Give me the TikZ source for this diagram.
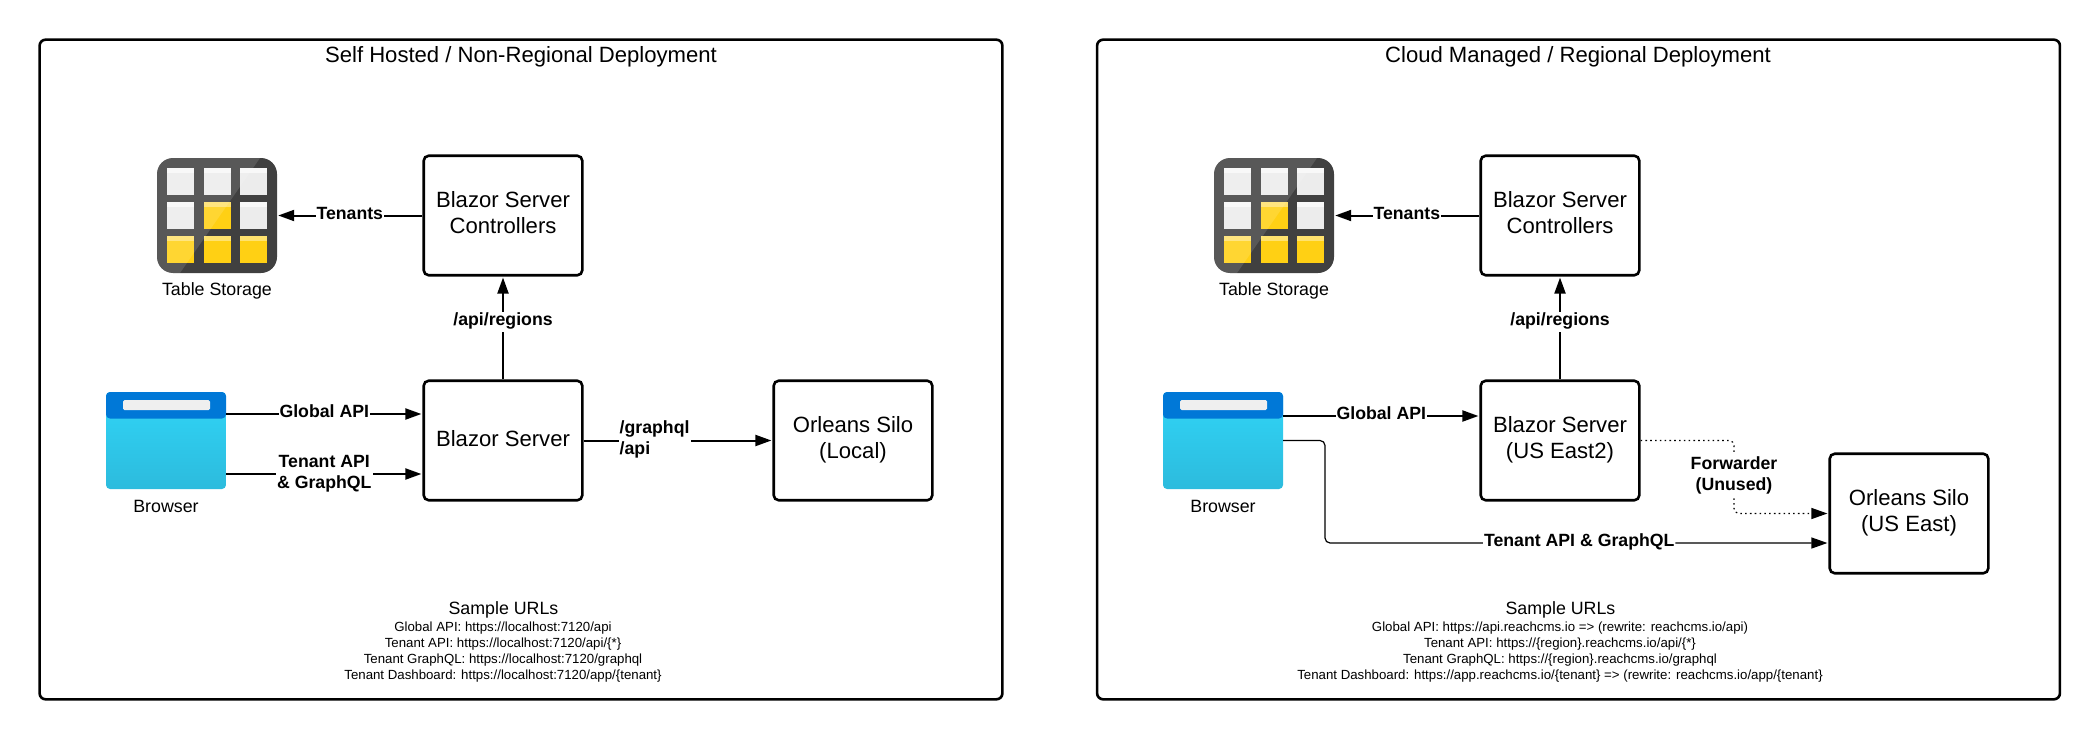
\documentclass[tikz,border=0pt]{standalone}
\usepackage{fontspec}
\setmainfont{Liberation Sans}
\usepackage{tikz}
\usetikzlibrary{arrows.meta}

\definecolor{iconlight}{HTML}{404040}
\definecolor{cellgrey}{HTML}{ECECEC}
\definecolor{celltopgrey}{HTML}{F8F8F8}
\definecolor{cellyellow}{HTML}{FFD014}
\definecolor{celltopyellow}{HTML}{FFE26E}
\definecolor{browsercyan}{HTML}{31D5F7}
\definecolor{browserdark}{HTML}{2CBBDD}
\definecolor{browserblue}{HTML}{0078D7}
\definecolor{browserbar}{HTML}{EFEFEF}

% table icon, drawn over its node
\newcommand{\tableicon}[1]{
    \begin{scope}[shift={(#1.center)}]
        \foreach \col/\row/\cellfill/\celltop in {
            -50/-47.5/cellgrey/celltopgrey, -13/-47.5/cellgrey/celltopgrey, 23/-47.5/cellgrey/celltopgrey,
            -50/-13.5/cellgrey/celltopgrey, -13/-13.5/cellyellow/celltopyellow, 23/-13.5/cellgrey/celltopgrey,
            -50/20.5/cellyellow/celltopyellow, -13/20.5/cellyellow/celltopyellow, 23/20.5/cellyellow/celltopyellow} {
            \fill[\cellfill] (\col,\row) rectangle ++(27,27);
            \fill[\celltop] (\col,\row) rectangle ++(27,5);
        }
        \begin{scope}
            \clip[rounded corners=16pt] (-60,-57.5) rectangle (60,57.5);
            \fill[white,opacity=.13] (-60,-57.5) -- (43,-57.5) -- (-37,57.5) -- (-60,57.5) -- cycle;
        \end{scope}
    \end{scope}
}
% browser icon, drawn over its node
\newcommand{\browsericon}[1]{
    \begin{scope}[shift={(#1.center)}]
        \fill[browserblue,rounded corners=4pt] (-60,-22) -- (-60,-48.5) -- (60,-48.5) -- (60,-22) -- cycle;
        \fill[browserbar,rounded corners=1.5pt] (-43,-40.5) rectangle (44,-30.5);
    \end{scope}
}

\begin{document}
\begin{tikzpicture}[x=1pt,y=-1pt,
    frame/.style={rectangle, draw, line width=2.6pt, rounded corners=6pt, minimum width=962.8pt, minimum height=659.6pt},
    block/.style={rectangle, draw, line width=2.6pt, rounded corners=5pt, minimum width=158.6pt, minimum height=119.5pt, align=center, text height=16pt, text depth=5pt, font=\fontsize{22.1}{26}\selectfont},
    blocktwo/.style={block, text height=40pt},
    title/.style={font=\fontsize{22.1}{26}\selectfont},
    tableimg/.style={rectangle, fill=iconlight, rounded corners=16pt, minimum width=120pt, minimum height=115pt},
    browserimg/.style={rectangle, top color=browsercyan, middle color=browsercyan, bottom color=browserdark, rounded corners=4pt, minimum width=120pt, minimum height=97pt},
    caption/.style={font=\fontsize{17.8}{21}\selectfont},
    urls/.style={align=center, font=\fontsize{13.25}{16}\selectfont},
    link/.style={line width=2pt, -{Triangle[length=16pt,width=11pt]}, shorten >=1pt},
    thinlink/.style={line width=1.2pt, rounded corners=5pt, -{Triangle[length=16pt,width=11pt]}, shorten >=1pt},
    forward/.style={thinlink, dash pattern=on 1.6pt off 3.2pt},
    edgelabel/.style={fill=white, inner sep=1pt, align=center, text height=13pt, text depth=5.5pt, font=\fontsize{17.7}{21}\bfseries\selectfont},
    edgelabeltwo/.style={edgelabel, text height=34pt}]
    \useasboundingbox (0,0) rectangle (2100,741);

    % self hosted
    \node[frame] (frameL) at (521,369.5) {};
    \node[title] (titleL) at (521,57) {Self Hosted / Non-Regional Deployment};
    \node[tableimg] (tableL) at (217,215.5) {};
    \tableicon{tableL}
    \node[caption] (tablecapL) at (217,291) {Table Storage};
    \node[browserimg] (browserL) at (166,440.5) {};
    \browsericon{browserL}
    \node[caption] (browsercapL) at (166,506) {Browser};
    \node[blocktwo] (ctrlL) at (503,215.5) {Blazor Server\\Controllers};
    \node[block] (serverL) at (503,440.5) {Blazor Server};
    \node[blocktwo] (siloL) at (853,440.5) {Orleans Silo\\(Local)};
    \draw[link] (ctrlL) -- node[edgelabel] (tenantsL) {Tenants} (tableL);
    \draw[link] (serverL) -- node[edgelabel,pos=.557] (regionsL) {/api/regions} (ctrlL);
    \draw[link] ([yshift=26.5pt]browserL.east) -- node[edgelabel] (globalL) {Global API} ([yshift=26.5pt]serverL.west);
    \draw[link] ([yshift=-33.5pt]browserL.east) -- node[edgelabeltwo] (tenantapiL) {Tenant API\\\& GraphQL} ([yshift=-33.5pt]serverL.west);
    \draw[link] (serverL) -- node[edgelabeltwo,align=left,pos=.376] (graphqlL) {/graphql\\/api} (siloL);
    \node[caption] (sampleL) at (503.5,610) {Sample URLs};
    \node[urls] (urlsL) at (503,652) {Global API: https://localhost:7120/api\\
        Tenant API: https://localhost:7120/api/\{*\}\\
        Tenant GraphQL: https://localhost:7120/graphql\\
        Tenant Dashboard: https://localhost:7120/app/\{tenant\}};

    % cloud managed
    \node[frame] (frameR) at (1578.5,369.5) {};
    \node[title] (titleR) at (1578,57) {Cloud Managed / Regional Deployment};
    \node[tableimg] (tableR) at (1274,215.5) {};
    \tableicon{tableR}
    \node[caption] (tablecapR) at (1274,291) {Table Storage};
    \node[browserimg] (browserR) at (1223,440.5) {};
    \browsericon{browserR}
    \node[caption] (browsercapR) at (1223,506) {Browser};
    \node[blocktwo] (ctrlR) at (1560,215.5) {Blazor Server\\Controllers};
    \node[blocktwo] (serverR) at (1560,440.5) {Blazor Server\\(US East2)};
    \node[blocktwo] (siloR) at (1909,513.5) {Orleans Silo\\(US East)};
    \coordinate (fwdR) at (1734,476);
    \coordinate (tenantR) at (1325,543);
    \draw[link] (ctrlR) -- node[edgelabel] (tenantsR) {Tenants} (tableR);
    \draw[link] (serverR) -- node[edgelabel,pos=.557] (regionsR) {/api/regions} (ctrlR);
    \draw[link] ([yshift=24.5pt]browserR.east) -- node[edgelabel] (globalR) {Global API} ([yshift=24.5pt]serverR.west);
    \draw[thinlink] (browserR.east) -| (tenantR) -- node[edgelabel,pos=.505] (tenantapiR) {Tenant API \& GraphQL} ([yshift=-29.5pt]siloR.west);
    \draw[forward] (serverR.east) -| (fwdR) |- (siloR.west);
    \node[edgelabeltwo] (forwarderR) at (fwdR) {Forwarder\\(Unused)};
    \node[caption] (sampleR) at (1560.5,610) {Sample URLs};
    \node[urls] (urlsR) at (1560,652) {Global API: https://api.reachcms.io => (rewrite: reachcms.io/api)\\
        Tenant API: https://\{region\}.reachcms.io/api/\{*\}\\
        Tenant GraphQL: https://\{region\}.reachcms.io/graphql\\
        Tenant Dashboard: https://app.reachcms.io/\{tenant\} => (rewrite: reachcms.io/app/\{tenant\}};
\end{tikzpicture}
\end{document}
